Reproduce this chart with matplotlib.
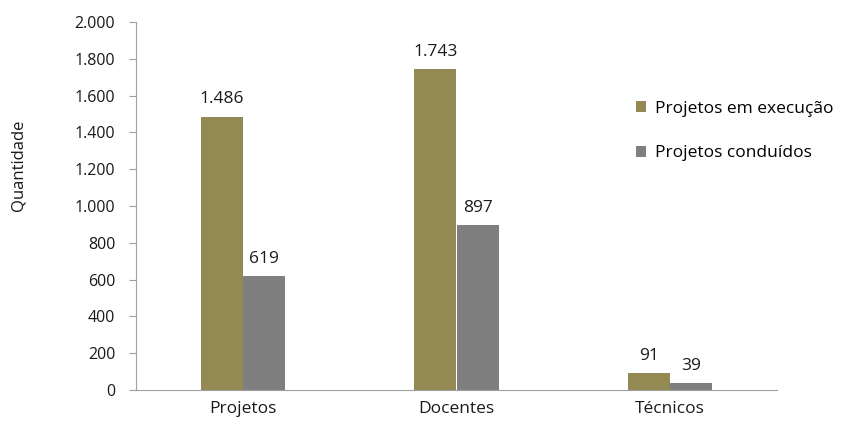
import matplotlib
matplotlib.use("Agg")
import matplotlib.pyplot as plt
import numpy as np

categories = ["Projetos", "Docentes", "Técnicos"]
em_execucao = [1486, 1743, 91]
conduidos = [619, 897, 39]
series_names = ["Projetos em execução", "Projetos conduídos"]
yticks = [0, 200, 400, 600, 800, 1000, 1200, 1400, 1600, 1800, 2000]

def fmt(v):
    return f"{v:,}".replace(",", ".")

plt.rcParams['font.family'] = ['Open Sans', 'DejaVu Sans']

fig = plt.figure(figsize=(8.43, 4.23), dpi=100)
ax = fig.add_axes([136/843, 1-390/423, (777-136)/843, (390-22)/423])

x = np.arange(len(categories))
w = 0.197
c1 = "#938953"
c2 = "#7f7f7f"
tc = '#1a1a1a'
b1 = ax.bar(x - w/2, em_execucao, w, color=c1, label=series_names[0])
b2 = ax.bar(x + w/2, conduidos, w, color=c2, label=series_names[1])

for rect, v in zip(b1, em_execucao):
    ax.text(rect.get_x() + rect.get_width()/2, v + 50, fmt(v), ha='center', va='bottom', fontsize=12.5, color=tc)
for rect, v in zip(b2, conduidos):
    ax.text(rect.get_x() + rect.get_width()/2, v + 50, fmt(v), ha='center', va='bottom', fontsize=12.5, color=tc)

ax.set_xlim(-0.5, 2.5)
ax.set_ylim(0, 2000)
ax.set_yticks(yticks)
ax.set_yticklabels([fmt(t) for t in yticks], fontsize=11.5, color=tc)
ax.set_xticks(x)
ax.set_xticklabels(categories, fontsize=12.5, color=tc)
ax.tick_params(axis='x', length=0, pad=8)
ax.tick_params(axis='y', length=5, color='#a0a0a0', pad=10)
for s in ['top', 'right']:
    ax.spines[s].set_visible(False)
for s in ['left', 'bottom']:
    ax.spines[s].set_color('#a0a0a0')
ax.set_ylabel("Quantidade", fontsize=12, color=tc, va='center')
ax.yaxis.set_label_coords(-0.184, 0.61)

leg = fig.legend(handles=[b1, b2], labels=series_names, loc='upper left',
                 bbox_to_anchor=(620/843, 1-85/423), frameon=False, fontsize=12.5,
                 handlelength=0.6, handleheight=0.6, handletextpad=0.5, labelspacing=1.65)

fig.savefig("out.png", dpi=100)
